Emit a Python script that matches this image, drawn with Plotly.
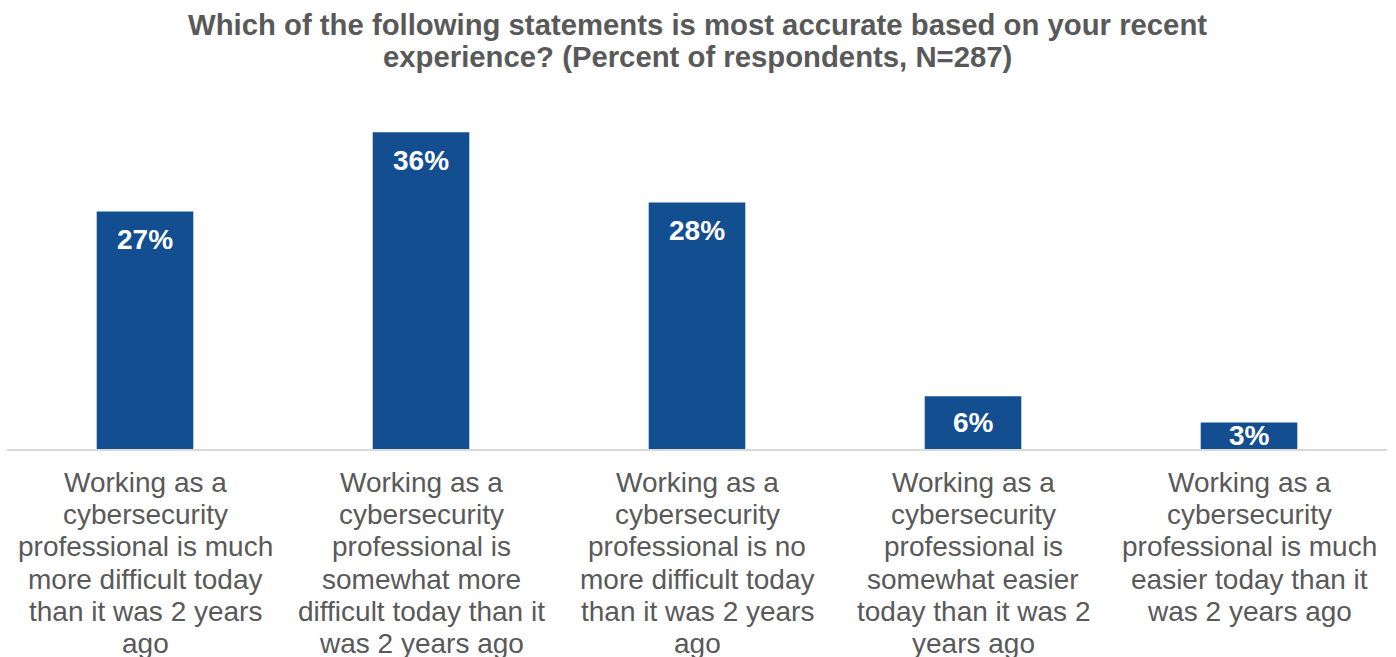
import plotly.graph_objects as go

# Survey results
categories = [
    "Working as a<br>cybersecurity<br>professional is much<br>more difficult today<br>than it was 2 years<br>ago",
    "Working as a<br>cybersecurity<br>professional is<br>somewhat more<br>difficult today than it<br>was 2 years ago",
    "Working as a<br>cybersecurity<br>professional is no<br>more difficult today<br>than it was 2 years<br>ago",
    "Working as a<br>cybersecurity<br>professional is<br>somewhat easier<br>today than it was 2<br>years ago",
    "Working as a<br>cybersecurity<br>professional is much<br>easier today than it<br>was 2 years ago",
]
percent = [27, 36, 28, 6, 3]

title_lines = [
    "Which of the following statements is most accurate based on your recent",
    "experience? (Percent of respondents, N=287)",
]

BAR_COLOR = "#134E91"
TEXT_GREY = "#595959"
FONT = "Liberation Sans, Arial, sans-serif"
FONT_SIZE = 28
TITLE_SIZE = 29.3
LINE_STEP = 32.2          # tight 1.15 line spacing for wrapped text

W, H = 1396, 657
M_L, M_R, M_T, M_B = 7, 9, 97, 208
Y_MAX = 40
px_per_unit = (H - M_T - M_B) / Y_MAX

fig = go.Figure(go.Bar(
    x=categories,
    y=percent,
    marker=dict(color=BAR_COLOR, line=dict(width=0)),
    hoverinfo="skip",
))

# value labels inside the top of each bar, kept within short bars
for cat, v in zip(categories, percent):
    bar_px = v * px_per_unit
    shift = min(28, bar_px / 2)
    fig.add_annotation(
        x=cat, y=v, xref="x", yref="y",
        text=f"<b>{v}%</b>", showarrow=False,
        yanchor="middle", yshift=-shift,
        font=dict(family=FONT, size=FONT_SIZE, color="white"),
    )

# wrapped category labels below the axis, one line at a time
for cat in categories:
    for i, line in enumerate(cat.split("<br>")):
        fig.add_annotation(
            x=cat, y=0, xref="x", yref="paper",
            text=line, showarrow=False,
            yanchor="middle", yshift=-(33.5 + i * LINE_STEP),
            font=dict(family=FONT, size=FONT_SIZE, color=TEXT_GREY),
        )

# two-line bold title
for i, line in enumerate(title_lines):
    fig.add_annotation(
        x=0.5, xref="paper", xanchor="center",
        y=1, yref="paper", yanchor="middle",
        yshift=M_T - (24 + i * LINE_STEP),
        text=f"<b>{line}</b>", showarrow=False,
        font=dict(family=FONT, size=TITLE_SIZE, color=TEXT_GREY),
    )

fig.update_layout(
    width=W, height=H,
    margin=dict(l=M_L, r=M_R, t=M_T, b=M_B),
    paper_bgcolor="white",
    plot_bgcolor="white",
    bargap=0.65,
    showlegend=False,
    xaxis=dict(
        showline=True, linecolor="#D9D9D9", linewidth=2,
        ticks="", showgrid=False, showticklabels=False,
        fixedrange=True,
    ),
    yaxis=dict(
        range=[0, Y_MAX], visible=False, showgrid=False, zeroline=False,
        fixedrange=True,
    ),
)

fig.write_html("out.html")
